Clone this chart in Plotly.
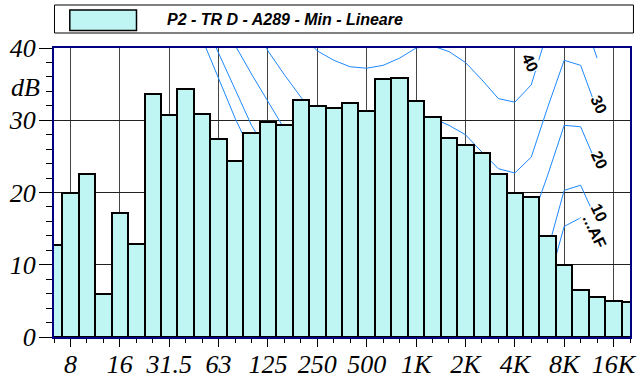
import plotly.graph_objects as go

# ---------------- data ----------------
bands = [6.3, 8, 10, 12.5, 16, 20, 25, 31.5, 40, 50, 63, 80, 100, 125, 160, 200,
         250, 315, 400, 500, 630, 800, 1000, 1250, 1600, 2000, 2500, 3150, 4000,
         5000, 6300, 8000, 10000, 12500, 16000, 20000]

levels = [12.7, 20.0, 22.5, 5.9, 17.2, 12.9, 33.6, 30.7, 34.3, 30.9, 27.4, 24.4,
          28.2, 29.7, 29.4, 32.8, 32.0, 31.7, 32.4, 31.3, 35.7, 35.8, 32.7, 30.4,
          27.5, 26.6, 25.4, 22.6, 19.9, 19.4, 14.0, 9.9, 6.5, 5.5, 5.0, 4.85]

tick_bands = [8, 16, 31.5, 63, 125, 250, 500, 1000, 2000, 4000, 8000, 16000]
tick_labels = ["8", "16", "31.5", "63", "125", "250", "500", "1K", "2K", "4K", "8K", "16K"]

N = None
# equal-loudness contours (dB per band, None where not drawn)
curve_af = [N, N, N, N, 92, 84, 70, 60, 49, 41.3, 35.8, 30.3, 25.5, 21.5, 18, 15,
            12, 9.5, 7.5, 6, 5, 4.5, 4, 3.5, 2, 0.5, -1.5, -3, -3.5, -1, 7.1, 15.3,
            16.5, 13, N, N]
curve_10 = [N, N, N, N, 95, 85, 72, 61, 50, 44.3, 39.3, 34.3, 29.3, 25.5, 22, 19.5,
            17, 15, 13.5, 12, 11, 10.5, 10, 10.5, 9, 7, 4.5, 3, 3, 5.5, 12, 20.3,
            21.0, 16.0, N, N]
curve_20 = [N, N, N, N, 100, 90, 78, 67, 57, 50, 45, 40.4, 36.4, 32.5, 28.8, 26,
            24, 22.5, 21.3, 20.5, 20, 20, 20, 20.5, 19, 17, 14.5, 12.5, 12.3, 16,
            22.4, 29.3, 29.1, 23.8, N, N]
curve_30 = [N, N, N, N, 105, 96, 85, 75, 66, 59, 54, 49, 44.5, 39.6, 36.3, 33.2,
            30.5, 30.3, 30.2, 30, 29.8, 29.8, 30, 30.3, 29.3, 28, 25.6, 23.3, 22.7,
            24.9, 31.8, 38.3, 37.6, 31.4, N, N]
curve_40 = [N, N, N, N, 110, 101, 92, 83, 75, 68, 62, 56.5, 51.5, 47.5, 44.5, 42,
            39.6, 38.3, 37.4, 37.2, 37.6, 38.6, 40, 40.3, 39.5, 38.0, 35.6, 33.0,
            32.5, 34.9, 42.4, 46.5, 45.3, 38.6, N, N]

curves = [curve_af, curve_10, curve_20, curve_30, curve_40]
curve_names = ["AF", "10", "20", "30", "40"]
# label placement (band position, dB)
curve_label_text = ["...AF", "10", "20", "30", "40"]
curve_label_x = [32.85, 33.1, 33.1, 33.1, 28.95]
curve_label_y = [14.6, 17.2, 24.5, 32.2, 37.9]

legend_text = "P2 - TR D - A289 - Min - Lineare"

# ---------------- figure ----------------
W, H = 641, 383
L, R, T, B = 54, 4, 48, 46
pw, ph = W - L - R, H - T - B


def px(x):
    return (x - L) / pw


def py(y):
    return (H - B - y) / ph


pos = list(range(len(bands)))
tickvals = [bands.index(f) for f in tick_bands]

fig = go.Figure()

for c, name in zip(curves, curve_names):
    fig.add_trace(go.Scatter(
        x=pos, y=c, mode="lines", name=name, showlegend=False,
        line=dict(color="#1E88FF", width=1), connectgaps=False,
        xaxis="x", yaxis="y", hoverinfo="skip"))

fig.add_trace(go.Bar(
    x=pos, y=levels, width=1, name=legend_text, showlegend=False,
    marker=dict(color="#BFF5F2", line=dict(color="black", width=2)),
    xaxis="x2", yaxis="y2"))

serif = dict(family="Liberation Serif", size=26, color="black", style="italic")

fig.update_layout(
    width=W, height=H,
    margin=dict(l=L, r=R, t=T, b=B, pad=0),
    paper_bgcolor="white", plot_bgcolor="white",
    bargap=0,
    xaxis=dict(
        range=[0, len(bands) - 1], tickmode="array", tickvals=tickvals,
        ticktext=tick_labels, ticks="outside", ticklen=8, tickwidth=1,
        tickcolor="black", tickfont=serif, ticklabelstandoff=-5,
        ticklabeloverflow="allow",
        showgrid=True, gridcolor="#444444", gridwidth=1, zeroline=False,
        showline=True, linecolor="#000080", linewidth=2, mirror=True,
        minor=dict(dtick=1, tick0=0, ticks="outside", ticklen=4,
                   tickcolor="black", showgrid=False),
    ),
    yaxis=dict(
        range=[0, 40], tickmode="array", tickvals=[0, 10, 20, 30, 40],
        ticks="outside", ticklen=13, tickwidth=1, tickcolor="black",
        tickfont=serif, ticklabelstandoff=-2, ticklabeloverflow="allow",
        showgrid=True, gridcolor="#222222", gridwidth=1,
        zeroline=False, showline=True, linecolor="#000080", linewidth=2,
        mirror=True,
        minor=dict(dtick=2, tick0=0, ticks="outside", ticklen=6,
                   tickcolor="black", showgrid=False),
    ),
    xaxis2=dict(range=[0, len(bands) - 1], overlaying="x", anchor="y2",
                visible=False),
    yaxis2=dict(range=[0, 40], overlaying="y", anchor="x2", visible=False),
)

# curve labels
for t, lx, ly in zip(curve_label_text, curve_label_x, curve_label_y):
    fig.add_annotation(x=lx, y=ly, xref="x", yref="y", text=t, showarrow=False,
                       textangle=65, bgcolor="white", borderpad=0,
                       font=dict(family="Liberation Sans", size=16, color="black",
                                 weight="bold"))

# unit label
fig.add_annotation(x=px(25), y=34.6, xref="paper", yref="y", text="dB",
                   showarrow=False, font=serif, xanchor="center", yanchor="middle")

# legend box
fig.add_shape(type="rect", xref="paper", yref="paper",
              x0=px(54.5), x1=px(640.5), y0=py(33), y1=py(5),
              line=dict(color="black", width=1), fillcolor="white")
fig.add_shape(type="rect", xref="paper", yref="paper",
              x0=px(70), x1=px(137.5), y0=py(30.5), y1=py(10),
              line=dict(color="black", width=1.5), fillcolor="#BFF5F2")
fig.add_annotation(x=px(166), y=py(19.5), xref="paper", yref="paper",
                   text=legend_text, showarrow=False, xanchor="left",
                   yanchor="middle",
                   font=dict(family="Liberation Sans", size=16, color="black",
                             weight="bold", style="italic"))

fig.write_html("out.html",
               config={"displayModeBar": False},
               post_script="document.body.style.margin='0';"
                           "document.body.style.overflow='hidden';")
